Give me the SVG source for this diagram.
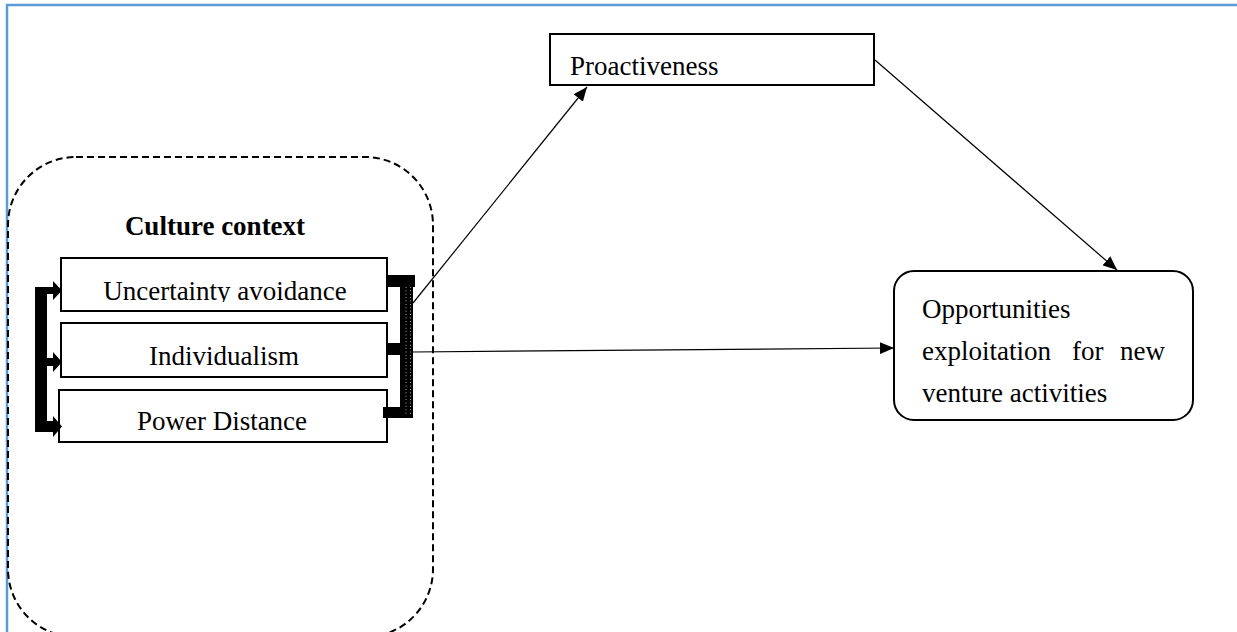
<svg xmlns="http://www.w3.org/2000/svg" width="1237" height="632" viewBox="0 0 1237 632">
<style>
.box{fill:#fff;stroke:#000;stroke-width:2}
.t{font-family:"Liberation Serif","Times New Roman",serif;font-size:27px;fill:#000}
.b{font-weight:bold}
.ln{stroke:#000;stroke-width:1.2;fill:none}
.bar{fill:#000}
.dots{stroke:#fff;stroke-width:0.8;stroke-dasharray:0.8 2.6;fill:none}
</style>
<defs>
<marker id="ah" viewBox="0 0 14 12" refX="14" refY="6" markerWidth="14" markerHeight="12" markerUnits="userSpaceOnUse" orient="auto">
<path d="M0,0 L14,6 L0,12 Z" fill="#000"/>
</marker>
<clipPath id="c1"><rect x="61" y="258" width="326" height="44"/></clipPath>
</defs>
<rect width="1237" height="632" fill="#fff"/>
<g id="frame">
<path d="M7,632 V5 H1237" fill="none" stroke="#5b9bd5" stroke-width="2.5"/>
</g>
<g id="culture">
<rect x="8" y="157" width="425" height="480" rx="68" ry="68" fill="none" stroke="#000" stroke-width="2" stroke-dasharray="7 4"/>
<text class="t b" x="215" y="235" text-anchor="middle">Culture context</text>
</g>
<g id="uncertainty">
<rect class="box" x="61" y="258" width="326" height="53"/>
<text class="t" x="225" y="300" text-anchor="middle" clip-path="url(#c1)">Uncertainty avoidance</text>
</g>
<g id="individualism">
<rect class="box" x="61" y="323" width="326" height="54"/>
<text class="t" x="224" y="365" text-anchor="middle">Individualism</text>
</g>
<g id="power">
<rect class="box" x="59" y="390" width="328" height="52"/>
<text class="t" x="222" y="430" text-anchor="middle">Power Distance</text>
</g>
<g id="proactiveness">
<rect class="box" x="550" y="34" width="324" height="51"/>
<text class="t" x="570" y="75">Proactiveness</text>
</g>
<g id="opportunities">
<rect class="box" x="894" y="271" width="299" height="149" rx="20" ry="20"/>
<text class="t" x="922" y="318">Opportunities</text>
<text class="t" y="360"><tspan x="922">exploitation</tspan><tspan x="1072">for</tspan><tspan x="1120">new</tspan></text>
<text class="t" x="922" y="402">venture activities</text>
</g>
<g id="connectors">
<path class="bar" d="M35,287 H54 V294 H35 Z M35,287 H47 V432 H35 Z M35,358 H54 V366 H35 Z M35,421 H54 V432 H35 Z"/>
<path class="bar" d="M53,281 L62,290.5 L53,300 Z M53,352 L62,362 L53,372 Z M53,416 L62,426.5 L53,437 Z"/>
<path class="bar" d="M387,275 H415 V287 H387 Z M400,275 H413 V418 H400 Z M387,343 H400 V355 H387 Z M383,407 H400 V418 H383 Z"/>
<path class="dots" d="M406,287 V415 M410.5,287 V415"/>
<line class="ln" x1="413" y1="303" x2="587" y2="87" marker-end="url(#ah)"/>
<line class="ln" x1="875" y1="60" x2="1117" y2="270" marker-end="url(#ah)"/>
<line class="ln" x1="413" y1="352" x2="894" y2="348" marker-end="url(#ah)"/>
</g>
</svg>
